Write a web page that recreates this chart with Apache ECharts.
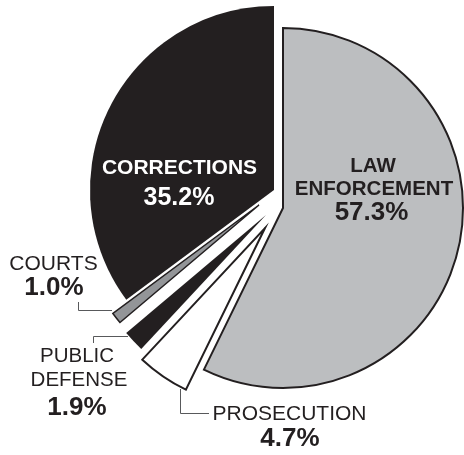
<!DOCTYPE html>
<html>
<head>
<meta charset="utf-8">
<script src="https://cdn.jsdelivr.net/npm/echarts@6/dist/echarts.min.js"></script>
<style>
html,body{margin:0;padding:0;background:#fff;}
#chart{width:464px;height:455px;}
</style>
</head>
<body>
<div id="chart"></div>
<script>
// ---- data ----
const categories = ['LAW ENFORCEMENT', 'PROSECUTION', 'PUBLIC DEFENSE', 'COURTS', 'CORRECTIONS'];
const shares = [57.3, 4.7, 1.9, 1.0, 35.2];
const nameLines = [['LAW', 'ENFORCEMENT'], ['PROSECUTION'], ['PUBLIC', 'DEFENSE'], ['COURTS'], ['CORRECTIONS']];

// ---- layout / style (not data) ----
const FONT = '"Liberation Sans", Arial, Helvetica, sans-serif';
const DARK = '#231f20';
const slices = [
  { center: [283, 208], r: 180, fill: '#bcbec0', stroke: DARK, bw: 2 },
  { center: [265, 228], r: 180, fill: '#ffffff', stroke: DARK, bw: 2 },
  { center: [266, 215], r: 183, fill: DARK, stroke: DARK, bw: 0 },
  { center: [259, 205], r: 182, fill: '#939598', stroke: DARK, bw: 1.5 },
  { center: [274, 190], r: 184, fill: DARK, stroke: DARK, bw: 0 }
];
// label placement: name lines [x, y, fontSize, weight, color], value [x, y, fontSize, color]
const labelLayout = [
  { names: [[373, 166, 20.5], [374, 189, 20.5]], nameWeight: 'bold', nameColor: DARK, value: [371.5, 213, 26], valueColor: DARK },
  { names: [[289.5, 414.5, 21]], nameWeight: 'normal', nameColor: DARK, value: [290, 439, 26], valueColor: DARK },
  { names: [[77, 356, 20.5], [79, 380, 20.5]], nameWeight: 'normal', nameColor: DARK, value: [77, 408, 26], valueColor: DARK },
  { names: [[53.5, 264.5, 21]], nameWeight: 'normal', nameColor: DARK, value: [54, 288, 26], valueColor: DARK },
  { names: [[179.5, 168.5, 21]], nameWeight: 'bold', nameColor: '#ffffff', value: [179, 198, 25], valueColor: '#ffffff' }
];
const leaders = [
  null,
  [[180.5, 389], [180.5, 413.5], [209, 413.5]],
  [[93.5, 343], [93.5, 336.5], [128, 336.5]],
  [[78.5, 302], [78.5, 310.5], [112, 310.5]],
  null
];

const chart = echarts.init(document.getElementById('chart'), null, { renderer: 'canvas' });

const series = slices.map((s, idx) => ({
  type: 'pie',
  silent: true,
  animation: false,
  center: s.center,
  radius: [0, s.r],
  startAngle: 90,
  clockwise: true,
  minAngle: 0,
  avoidLabelOverlap: false,
  label: { show: false },
  labelLine: { show: false },
  emphasis: { disabled: true },
  data: categories.map((c, i) => ({
    name: c,
    value: shares[i],
    itemStyle: i === idx
      ? { color: s.fill, borderColor: s.stroke, borderWidth: s.bw, borderJoin: 'miter' }
      : { color: 'rgba(0,0,0,0)', borderWidth: 0 }
  }))
}));

const graphics = [];
labelLayout.forEach((L, i) => {
  nameLines[i].forEach((line, k) => {
    const p = L.names[k];
    graphics.push({
      type: 'text', silent: true, z: 100,
      x: p[0], y: p[1],
      style: { text: line, font: L.nameWeight + ' ' + p[2] + 'px ' + FONT, fill: L.nameColor, align: 'center', verticalAlign: 'middle' }
    });
  });
  graphics.push({
    type: 'text', silent: true, z: 100,
    x: L.value[0], y: L.value[1],
    style: { text: shares[i].toFixed(1) + '%', font: 'bold ' + L.value[2] + 'px ' + FONT, fill: L.valueColor, align: 'center', verticalAlign: 'middle' }
  });
  if (leaders[i]) {
    graphics.push({
      type: 'polyline', silent: true, z: 90,
      shape: { points: leaders[i] },
      style: { stroke: '#58595b', lineWidth: 1, fill: null }
    });
  }
});

chart.setOption({
  backgroundColor: '#ffffff',
  animation: false,
  series: series,
  graphic: graphics
});
</script>
</body>
</html>
